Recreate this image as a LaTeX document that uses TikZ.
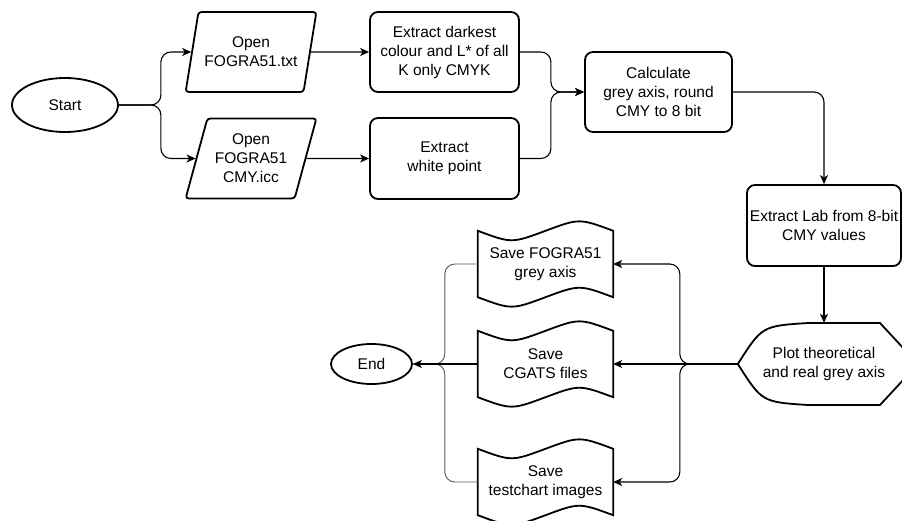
\documentclass[tikz,border=0pt]{standalone}
\usepackage{fontspec}
\setmainfont{Liberation Sans}
\usetikzlibrary{shapes.geometric,arrows.meta,calc}

% wavy "tape" outline round a named node
\newcommand{\tapeshape}[1]{%
	\draw[line width=1.8pt]
	($(#1.north west)+(0,7)$)
	.. controls ($(#1.north west)!0.25!(#1.north east)+(0,19.6)$) .. ($(#1.north)+(0,7)$)
	.. controls ($(#1.north west)!0.75!(#1.north east)+(0,-5.6)$) .. ($(#1.north east)+(0,7)$)
	-- ($(#1.south east)+(0,-7)$)
	.. controls ($(#1.south west)!0.75!(#1.south east)+(0,-19.6)$) .. ($(#1.south)+(0,-7)$)
	.. controls ($(#1.south west)!0.25!(#1.south east)+(0,5.6)$) .. ($(#1.south west)+(0,-7)$)
	-- cycle;}

\begin{document}
\begin{tikzpicture}[x=1pt,y=-1pt,
	font=\fontsize{15.5}{19}\selectfont,
	box/.style={draw,line width=1.8pt,rounded corners=8pt,align=center,inner sep=2pt},
	term/.style={draw,ellipse,line width=1.8pt,inner sep=0pt},
	iobox/.style={draw,trapezium,trapezium left angle=70,trapezium right angle=110,
		trapezium stretches=true,line width=1.8pt,rounded corners=3pt,align=center,
		inner sep=1pt,minimum width=131,minimum height=80},
	txt/.style={align=center,inner sep=0pt},
	conn/.style={line width=1.1pt,rounded corners=10pt,-{Stealth[length=9pt,width=8pt,inset=2.5pt]}},
	conl/.style={line width=0.9pt,black!65,rounded corners=10pt}]
	\useasboundingbox[fill=white] (0,0) rectangle (902,520);
	
	% Input branch
	\node[term, minimum width=106, minimum height=54] (start) at (65,105) {Start};
	\node[iobox] (open1) at (251,52) {Open\\FOGRA51.txt};
	\node[iobox] (open2) at (251,158.5) {Open\\FOGRA51\\CMY.icc};
	\node[box, minimum width=149, minimum height=80] (dark) at (444.5,52) {Extract darkest\\colour and L* of all\\K only CMYK};
	\node[box, minimum width=149, minimum height=81] (white) at (444.5,158.5) {Extract\\white point};
	
	% Processing
	\node[box, minimum width=147, minimum height=80] (calc) at (658.5,92) {Calculate\\grey axis, round\\CMY to 8 bit};
	\node[box, minimum width=154, minimum height=81] (lab) at (824,225.5) {Extract Lab from 8-bit\\CMY values};
	\node[txt, minimum width=172, minimum height=82] (plot) at (824,364) {Plot theoretical\\and real grey axis};
	\draw[line width=1.8pt] (plot.west) .. controls (762,326) .. (808,323) -- (880,323)
		-- (918,364) -- (880,405) -- (808,405) .. controls (762,402) .. (plot.west) -- cycle;
	
	% Outputs
	\node[txt, minimum width=135, minimum height=80] (save1) at (545.5,264) {Save FOGRA51\\grey axis};
	\tapeshape{save1}
	\node[txt, minimum width=135, minimum height=80] (save2) at (545.5,364) {Save\\CGATS files};
	\tapeshape{save2}
	\node[txt, minimum width=135, minimum height=80] (save3) at (545.5,482) {Save\\testchart images};
	\tapeshape{save3}
	\node[term, minimum width=81, minimum height=40] (end) at (371.5,364) {End};
	
	% Connectors
	\draw[conn] (start.east) -- ++(42,0) |- (open1.west);
	\draw[conn] (start.east) -- ++(42,0) |- (open2.west);
	\draw[conn] (open1.east) -- (dark.west);
	\draw[conn] (open2.east) -- (white.west);
	\draw[conn] (dark.east) -- ++(31,0) |- (calc.west);
	\draw[conn] (white.east) -- ++(31,0) |- (calc.west);
	\draw[conn] (calc.east) -| (lab.north);
	\draw[conn] (lab.south) -- (plot.north);
	\draw[conn] (plot.west) -- ++(-58,0) |- (save1.east);
	\draw[conn] (plot.west) -- (save2.east);
	\draw[conn] (plot.west) -- ++(-58,0) |- (save3.east);
	\draw[conl] (save1.west) -- ++(-33,0) |- (end.east);
	\draw[conl] (save3.west) -- ++(-33,0) |- (end.east);
	\draw[conn] (save2.west) -- (end.east);
\end{tikzpicture}
\end{document}
